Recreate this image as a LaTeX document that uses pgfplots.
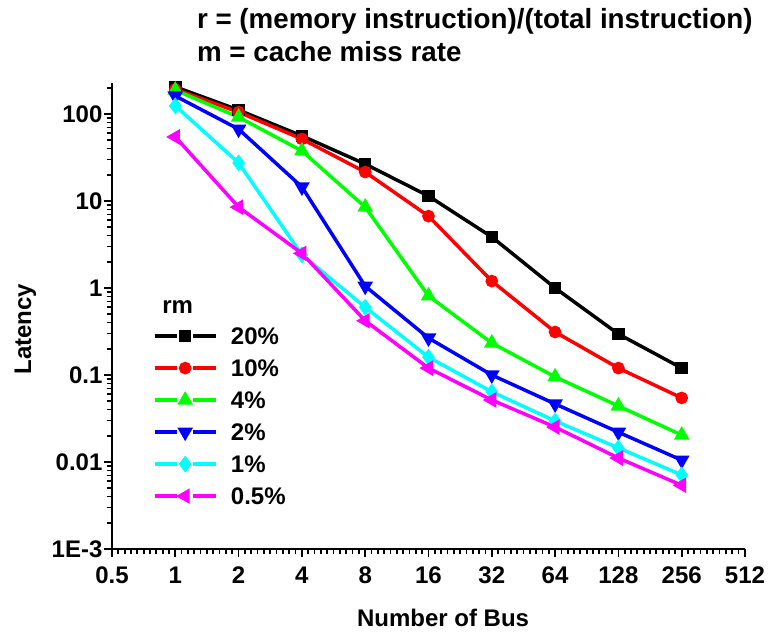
\documentclass[border=0pt]{standalone}
\usepackage{fontspec}
\setmainfont{Liberation Sans}
\usepackage{pgfplots}
\pgfplotsset{compat=1.18}
\newcommand\fsz{\fontsize{18}{21}\selectfont\bfseries}
\newcommand\tsz{\fontsize{20.8}{24}\selectfont\bfseries}
\definecolor{cgreen}{RGB}{0,255,0}
\definecolor{ccyan}{RGB}{0,255,255}
\definecolor{cmag}{RGB}{255,0,255}
% minor x ticks: 9 per octave, evenly spaced in log2
\def\mxt{0.5}
\foreach \e in {-1,...,8}{\foreach \k in {1,...,9}{%
  \pgfmathparse{2^(\e+\k/10)}\xdef\mxt{\mxt,\pgfmathresult}}}

\begin{document}
\begin{tikzpicture}
\begin{axis}[name=ax,
  scale only axis, width=474.75pt, height=349.5pt,
  xmode=log, ymode=log, log basis x=2,
  xmin=0.5, xmax=512, ymin=0.001, ymax=227,
  axis lines=left, axis line style={-, line width=1.5pt},
  tick align=outside, major tick length=6pt, minor tick length=4pt,
  every tick/.style={black, line width=1.3pt},
  xtick={0.5,1,2,4,8,16,32,64,128,256,512},
  xticklabels={0.5,1,2,4,8,16,32,64,128,256,512},
  extra x ticks/.expand once=\mxt,
  extra x tick labels={},
  extra x tick style={major tick length=4pt},
  ytick={0.001,0.01,0.1,1,10,100},
  yticklabels={1E-3,0.01,0.1,1,10,100},
  minor ytick={0.002,0.003,0.004,0.005,0.006,0.007,0.008,0.009,
    0.02,0.03,0.04,0.05,0.06,0.07,0.08,0.09,
    0.2,0.3,0.4,0.5,0.6,0.7,0.8,0.9,
    2,3,4,5,6,7,8,9,20,30,40,50,60,70,80,90,200},
  ticklabel style={font=\fsz},
  xticklabel style={yshift=-4pt},
  yticklabel style={inner sep=1pt},
  label style={font=\fsz},
  xlabel={Number of Bus},
  xlabel style={at={(axis description cs:0.523,-0.167)}, anchor=base},
  ylabel={Latency},
  ylabel style={at={(axis description cs:-0.137,0.472)}, anchor=center},
  clip=false,
  legend style={draw=none, fill=none, font=\fsz, inner sep=0pt,
    at={(axis description cs:0.064,0.476)}, anchor=north west,
    nodes={inner sep=0pt, text height=13pt, text depth=0pt},
    row sep=11pt, column sep=10pt},
  legend cell align=left,
  legend image code/.code={
    \draw[#1, mark=none] (0pt,0pt) -- (17pt,0pt);
    \draw[#1, mark=none] (29pt,0pt) -- (46pt,0pt);
    \path[#1] plot coordinates {(23pt,0pt)};
  },
  every axis plot/.append style={line width=2.6pt},
]
\addplot[black, mark=square*, mark size=3.4pt] coordinates {
(1,205) (2,111) (4,56) (8,26.6) (16,11.4) (32,3.86) (64,1.0) (128,0.296) (256,0.12)};
\addlegendentry{20\%}
\addplot[red, mark=*, mark size=3.4pt] coordinates {
(1,192) (2,105) (4,51.6) (8,21.5) (16,6.7) (32,1.2) (64,0.312) (128,0.12) (256,0.0545)};
\addlegendentry{10\%}
\addplot[cgreen, mark=triangle*, mark size=4.2pt] coordinates {
(1,188) (2,92) (4,37.6) (8,8.5) (16,0.81) (32,0.233) (64,0.095) (128,0.044) (256,0.0204)};
\addlegendentry{4\%}
\addplot[blue, mark=triangle*, mark size=4.2pt, mark options={rotate=180}] coordinates {
(1,161) (2,67) (4,14.5) (8,1.05) (16,0.266) (32,0.1) (64,0.0465) (128,0.022) (256,0.0105)};
\addlegendentry{2\%}
\addplot[ccyan, mark=diamond*, mark size=4.2pt] coordinates {
(1,124) (2,27.4) (4,2.4) (8,0.6) (16,0.16) (32,0.064) (64,0.0296) (128,0.0145) (256,0.0071)};
\addlegendentry{1\%}
\addplot[cmag, mark=triangle*, mark size=4.2pt, mark options={rotate=90}] coordinates {
(1,54.5) (2,8.5) (4,2.5) (8,0.42) (16,0.12) (32,0.0516) (64,0.0252) (128,0.0111) (256,0.0054)};
\addlegendentry{0.5\%}
\node[font=\fsz, anchor=base west, inner sep=0pt] at (axis description cs:0.079,0.506) {rm};
\node[font=\tsz, anchor=base west, inner sep=0pt] at (axis description cs:0.134,1.118) {r = (memory instruction)/(total instruction)};
\node[font=\tsz, anchor=base west, inner sep=0pt] at (axis description cs:0.134,1.047) {m = cache miss rate};
\end{axis}
\pgfresetboundingbox
\path[use as bounding box] ([shift={(-84pt,-63pt)}]ax.south west) rectangle ([shift={(22.5pt,62.25pt)}]ax.north east);
\end{tikzpicture}
\end{document}
